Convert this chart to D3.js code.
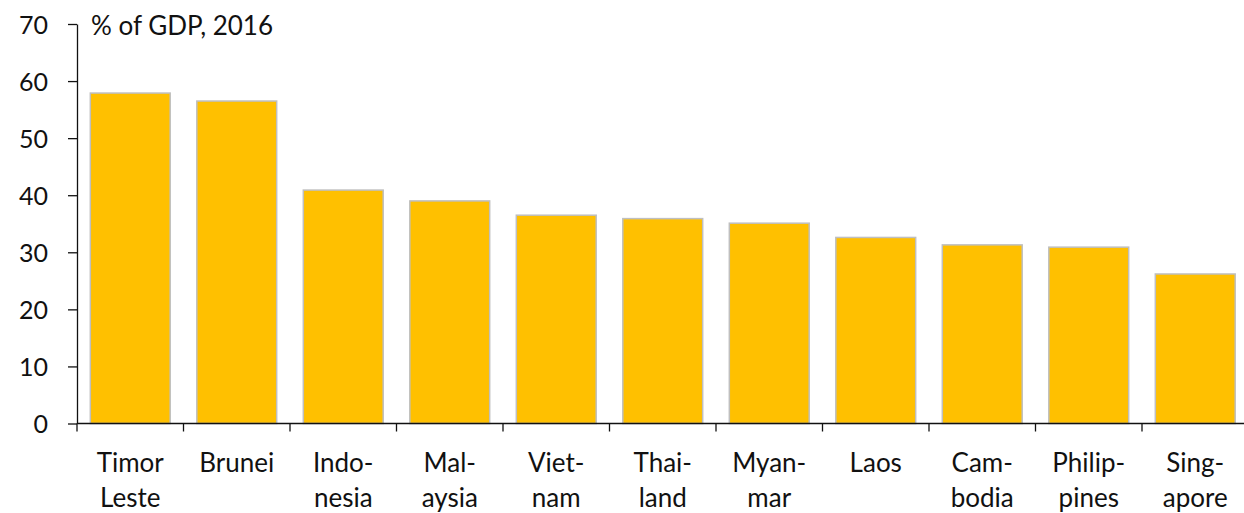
<!DOCTYPE html>
<html>
<head>
<meta charset="utf-8">
<script src="https://cdn.jsdelivr.net/npm/d3@7"></script>
<style>
  body { margin: 0; background: #fff; }
  svg text { font-family: Lato, "DejaVu Sans", sans-serif; fill: #111; }
</style>
</head>
<body>
<div id="chart"></div>
<script>
// data
var countries = ["Timor Leste", "Brunei", "Indonesia", "Malaysia", "Vietnam", "Thailand",
                 "Myanmar", "Laos", "Cambodia", "Philippines", "Singapore"];
var labelLines = [["Timor", "Leste"], ["Brunei"], ["Indo-", "nesia"], ["Mal-", "aysia"],
                  ["Viet-", "nam"], ["Thai-", "land"], ["Myan-", "mar"], ["Laos"],
                  ["Cam-", "bodia"], ["Philip-", "pines"], ["Sing-", "apore"]];
var values = [57.9, 56.5, 40.9, 39.0, 36.5, 35.9, 35.1, 32.6, 31.3, 30.9, 26.2];
var yTicks = [0, 10, 20, 30, 40, 50, 60, 70];
var unitLabel = "% of GDP, 2016";

var width = 1244, height = 513;
var margin = { left: 77, right: 1248.5, top: 24, bottom: 423.5 };

var svg = d3.select("#chart")
    .append("svg")
    .attr("width", width)
    .attr("height", height);

// scales
var x = d3.scaleBand()
    .domain(countries)
    .range([margin.left, margin.right])
    .paddingInner(0.25)
    .paddingOuter(0.125);

var y = d3.scaleLinear()
    .domain([0, 70])
    .range([margin.bottom, margin.top]);

// bars
svg.selectAll("rect.bar")
    .data(values)
    .enter()
    .append("rect")
    .attr("class", "bar")
    .attr("x", function (d, i) { return x(countries[i]); })
    .attr("y", function (d) { return y(d); })
    .attr("width", x.bandwidth())
    .attr("height", function (d) { return y(0) - y(d); })
    .attr("fill", "#FFC000")
    .attr("stroke", "#bfbfbf")
    .attr("stroke-width", 1.5);

// y axis
var yAxis = svg.append("g")
    .attr("transform", "translate(" + margin.left + ",0)")
    .call(d3.axisLeft(y).tickValues(yTicks).tickSize(9).tickPadding(20).tickSizeOuter(0));
yAxis.selectAll("text").style("font-size", "25px").attr("dy", "0.36em");
yAxis.selectAll("line, path").attr("stroke", "#111").attr("stroke-width", 1.3);

// x axis: ticks sit on band boundaries
var bounds = countries.map(function (c) { return x(c) - x.step() * x.paddingInner() / 2; });
svg.append("line")
    .attr("x1", margin.left).attr("x2", width)
    .attr("y1", y(0)).attr("y2", y(0))
    .attr("stroke", "#111").attr("stroke-width", 1.3);
svg.selectAll("line.xtick")
    .data(bounds)
    .enter()
    .append("line")
    .attr("class", "xtick")
    .attr("x1", function (d) { return d; }).attr("x2", function (d) { return d; })
    .attr("y1", y(0)).attr("y2", y(0) + 8)
    .attr("stroke", "#111").attr("stroke-width", 1.3);

// category labels
var labels = svg.selectAll("text.cat")
    .data(countries)
    .enter()
    .append("text")
    .attr("class", "cat")
    .attr("text-anchor", "middle")
    .attr("x", function (d) { return x(d) + x.bandwidth() / 2; })
    .attr("y", 472)
    .style("font-size", "26px");
labels.each(function (d, i) {
    var t = d3.select(this);
    labelLines[i].forEach(function (line, j) {
        t.append("tspan")
            .attr("x", x(d) + x.bandwidth() / 2)
            .attr("dy", j === 0 ? 0 : 34.5)
            .text(line);
    });
});

// unit label
svg.append("text")
    .attr("x", 91)
    .attr("y", 35)
    .style("font-size", "26px")
    .text(unitLabel);
</script>
</body>
</html>
